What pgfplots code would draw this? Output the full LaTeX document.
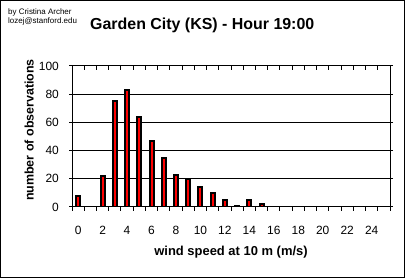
\documentclass[border=0pt]{standalone}
\usepackage{fontspec}
\setmainfont{Liberation Sans}
\usepackage{pgfplots}
\pgfplotsset{compat=1.18}
\begin{document}
\begin{tikzpicture}
\draw[line width=1bp] (0.5bp,0.5bp) rectangle (404.5bp,277.5bp);
\node[anchor=base west, font=\fontsize{16}{19}\selectfont\bfseries, inner sep=0pt] at (90bp,248bp) {Garden City (KS) - Hour 19:00};
\node[anchor=base west, font=\fontsize{8}{9}\selectfont, inner sep=0pt] at (8bp,263bp) {by Cristina Archer};
\node[anchor=base west, font=\fontsize{8}{9}\selectfont, inner sep=0pt] at (8bp,254bp) {lozej@stanford.edu};
\begin{axis}[
  at={(72bp,71bp)}, anchor=south west,
  scale only axis, width=318bp, height=141bp,
  xmin=-0.5, xmax=25.5, ymin=0, ymax=100,
  ybar, bar width=4bp,
  xtick={0,2,...,24},
  minor xtick={-0.5,0.5,...,25.5},
  ytick={0,20,...,100},
  ymajorgrids, major grid style={black, line width=1bp},
  tick align=center,
  major tick length=6bp, minor tick length=4bp,
  major x tick style={draw=none},
  minor x tick style={yshift=-2bp, black, line width=1bp},
  ytick style={black, line width=1bp},
  axis line style={black, line width=1bp},
  /pgf/number format/assume math mode=true,
  ticklabel style={font=\fontsize{12}{14}\selectfont},
  xticklabel style={anchor=base, inner sep=0pt, yshift=-24bp},
  yticklabel style={anchor=east, inner sep=0pt, xshift=-10bp},
  xlabel={wind speed at 10 m (m/s)},
  xlabel style={at={(axis description cs:0.5,0)}, anchor=base, yshift=-48bp, inner sep=0pt, font=\fontsize{13}{15}\selectfont\bfseries},
  ylabel={number of observations},
  ylabel style={at={(axis description cs:-0.1195,0.546)}, anchor=south, inner sep=0pt, font=\fontsize{12.5}{15}\selectfont\bfseries},
]
\addplot[fill=red, draw=black, line width=2bp] coordinates {
(0,8) (2,22) (3,75) (4,83) (5,64) (6,47) (7,35) (8,23) (9,20) (10,14) (11,10) (12,5) (13,1) (14,5) (15,2)
};
\end{axis}
\end{tikzpicture}
\end{document}
